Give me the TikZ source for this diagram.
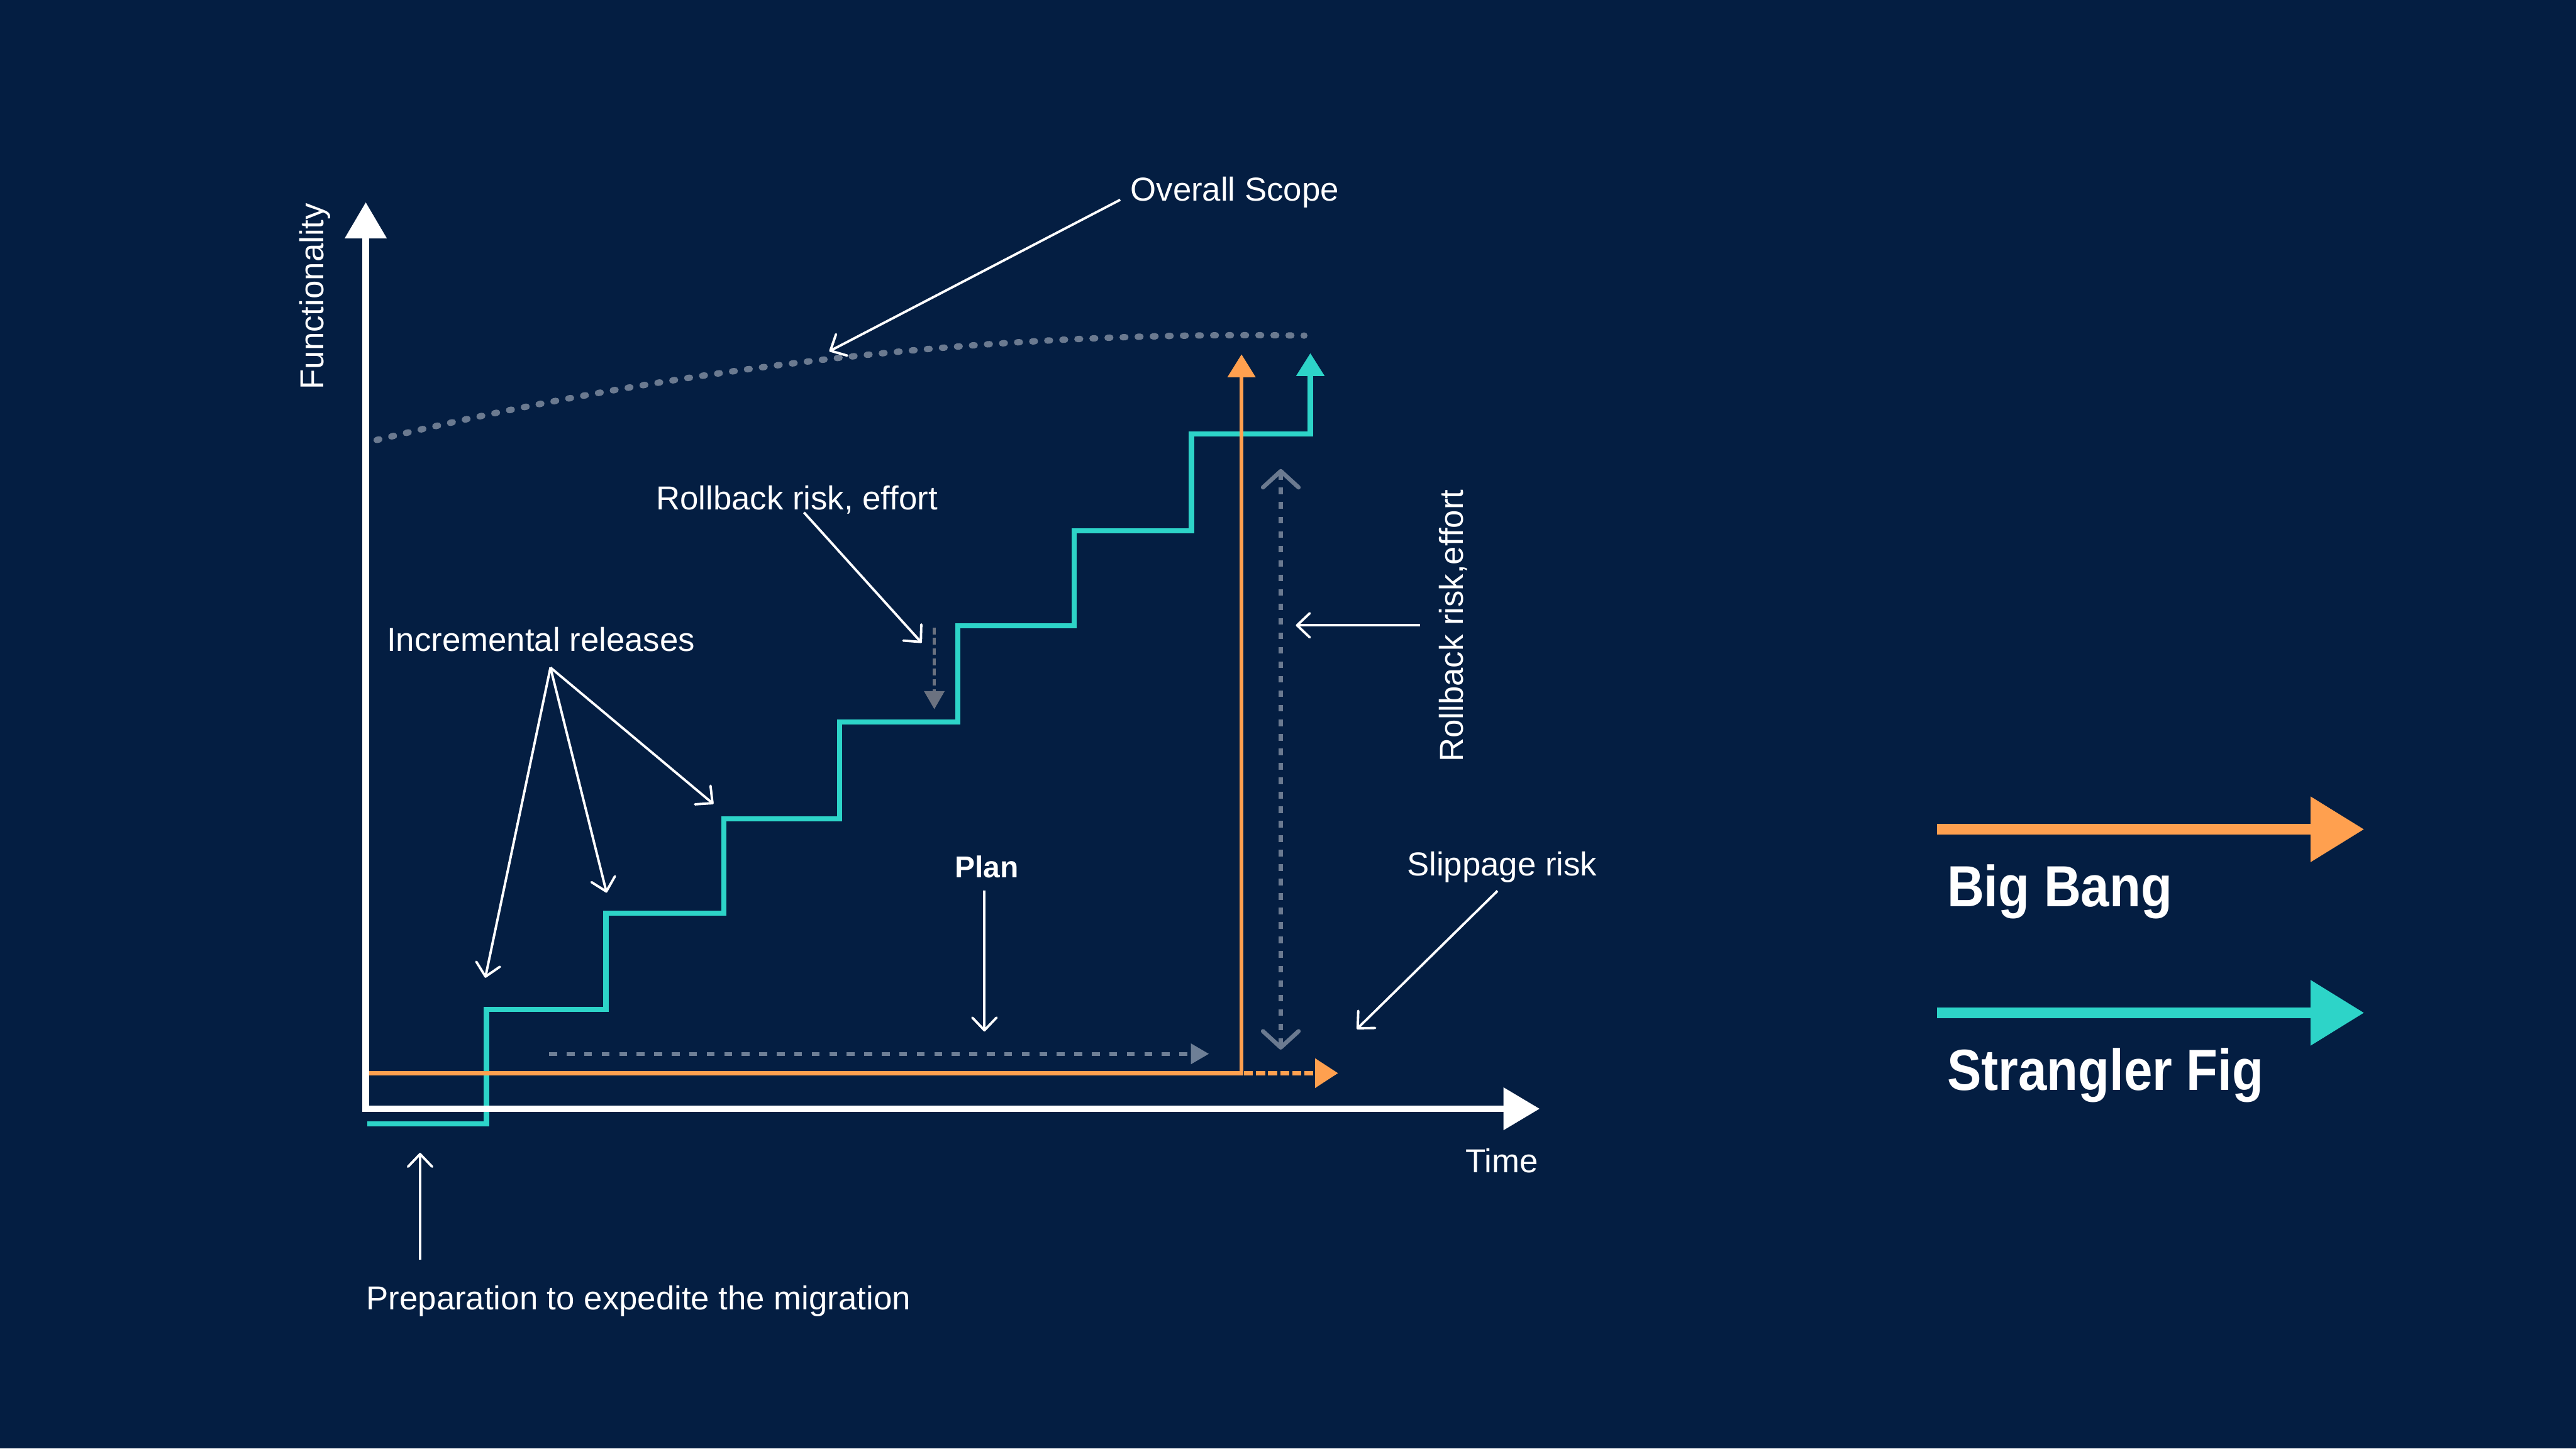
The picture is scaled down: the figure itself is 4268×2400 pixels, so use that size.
\documentclass[tikz,border=0pt]{standalone}
\usepackage{graphicx}
\usepackage{fontspec}
\setmainfont{Liberation Sans}
\usetikzlibrary{arrows.meta}
\definecolor{bg}{HTML}{041E42}
\definecolor{orng}{HTML}{FFA04F}
\definecolor{tealc}{HTML}{2DD4C8}
\definecolor{dotgray}{HTML}{6B7A90}
\definecolor{plangray}{HTML}{6E7F96}
\definecolor{rbgray}{HTML}{6B7280}
\begin{document}
\begin{tikzpicture}[x=0.1pt,y=-0.1pt,line join=miter,
  lbl/.style={font=\fontsize{5.5}{6.6}\selectfont,text=white,inner sep=0pt,anchor=base west},
  legtxt/.style={font=\fontsize{8.5}{10}\selectfont\bfseries,text=white,inner sep=0pt,anchor=base west},
  note/.style={draw=white,line width=0.4pt,-{Straight Barb[length=2.1pt,width=4pt,round]}},
  axisln/.style={draw=white,line width=1.1pt},
  bigtip/.style={-{Triangle[length=3.8pt,width=4.5pt]}},
  graytip/.style={-{Triangle[length=3pt,width=3.3pt]}}]
\fill[bg] (0,0) rectangle (4268,2400);
\useasboundingbox (0,0) rectangle (4268,2400);

% ---- coordinates
\coordinate (ytip) at (606,335);
\coordinate (orig) at (606,1837);
\coordinate (xtip) at (2551,1837);
\coordinate (ts) at (609,1862);
\coordinate (ttip) at (2171,585);
\coordinate (os) at (612,1778);
\coordinate (ocorner) at (2057,1778);
\coordinate (otip) at (2057,587);
\coordinate (oslip) at (2217,1778);
\coordinate (cs) at (624,729);
\coordinate (ce) at (2161,556);
\coordinate (ps) at (910,1746);
\coordinate (pe) at (2003,1746);
\coordinate (rs) at (1548,1040);
\coordinate (re) at (1548,1175);
\coordinate (ds) at (2122,777);
\coordinate (de) at (2122,1739);

% ---- overall scope curve
\draw[dotgray,line width=1.05pt,line cap=round,dash pattern=on 0.45pt off 2.05pt]
  (cs) .. controls (1127,606) and (1640,548) .. (ce);

% ---- strangler fig steps
\draw[tealc,line width=0.85pt,bigtip] (ts) -- (806,1862) -- (806,1672) -- (1004,1672)
  -- (1004,1513) -- (1199,1513) -- (1199,1357) -- (1391,1357) -- (1391,1196)
  -- (1587,1196) -- (1587,1037) -- (1780,1037) -- (1780,879) -- (1974,879)
  -- (1974,719) -- (2171,719) -- (ttip);

% ---- big bang
\draw[orng,line width=0.7pt,bigtip] (os) -- (ocorner) -- (otip);
\draw[orng,line width=0.75pt,dash pattern=on 1.5pt off 0.5pt,-{Triangle[length=3.8pt,width=4.7pt]}]
  ([xshift=0.4pt]ocorner) -- (oslip);

% ---- axes
\draw[axisln,{Triangle[length=6pt,width=6.7pt]}-{Triangle[length=6pt,width=6.8pt]}] (ytip) -- (orig) -- (xtip);

% ---- gray dashed arrows
\draw[plangray,line width=0.6pt,dash pattern=on 1.3pt off 1.6pt,graytip] (ps) -- (pe);
\draw[rbgray,line width=0.5pt,dash pattern=on 1.1pt off 0.6pt,graytip] (rs) -- (re);
\draw[dotgray,line width=0.7pt,dash pattern=on 1.1pt off 1.3pt,
  {Straight Barb[length=2.7pt,width=5.9pt,round]}-{Straight Barb[length=2.7pt,width=5.9pt,round]}] (ds) -- (de);

% ---- labels
\node[lbl,rotate=90,anchor=base] (func) at (536,491) {Functionality};
\node[lbl] (time) at (2426,1943) {Time};
\node[lbl] (scope) at (1871,333) {Overall Scope};
\node[lbl] (rb1) at (1085,844) {Rollback risk, effort};
\node[lbl] (incr) at (639,1079) {Incremental releases};
\node[lbl,font=\fontsize{5}{6}\selectfont\bfseries] (plan) at (1580,1454) {Plan};
\node[lbl] (slip) at (2329,1451) {Slippage risk};
\node[lbl,rotate=90,anchor=base] (rb2) at (2424,1037) {Rollback risk,effort};
\node[lbl] (prep) at (605,2170) {Preparation to expedite the migration};

% ---- annotation arrows
\coordinate (a1s) at (1856,331);  \coordinate (a1e) at (1374,582);
\coordinate (a2s) at (1332,849);  \coordinate (a2e) at (1527,1065);
\coordinate (a3s) at (912,1106);
\coordinate (a3a) at (804,1620); \coordinate (a3b) at (1005,1479); \coordinate (a3c) at (1182,1332);
\coordinate (a4s) at (1631,1475); \coordinate (a4e) at (1631,1709);
\coordinate (a5s) at (2481,1476); \coordinate (a5e) at (2248,1705);
\coordinate (a6s) at (2353,1036); \coordinate (a6e) at (2147,1036);
\coordinate (a7s) at (696,2087);  \coordinate (a7e) at (696,1910);
\draw[note] (a1s) -- (a1e);
\draw[note] (a2s) -- (a2e);
\draw[note] (a3s) -- (a3a);
\draw[note] (a3s) -- (a3b);
\draw[note] (a3s) -- (a3c);
\draw[note] (a4s) -- (a4e);
\draw[note] (a5s) -- (a5e);
\draw[note] (a6s) -- (a6e);
\draw[note] (a7s) -- (a7e);

% ---- legend
\coordinate (lo1) at (3209,1374); \coordinate (lo2) at (3917,1374);
\coordinate (lt1) at (3209,1678); \coordinate (lt2) at (3917,1678);
\draw[orng,line width=1.8pt,-{Triangle[length=8.9pt,width=10.4pt]}] (lo1) -- (lo2);
\draw[tealc,line width=1.8pt,-{Triangle[length=8.9pt,width=10.4pt]}] (lt1) -- (lt2);
\node[legtxt] (bb) at (3224,1502) {\scalebox{1}[1.13]{Big Bang}};
\node[legtxt] (sf) at (3224,1806) {\scalebox{1}[1.13]{Strangler Fig}};
\end{tikzpicture}
\end{document}
